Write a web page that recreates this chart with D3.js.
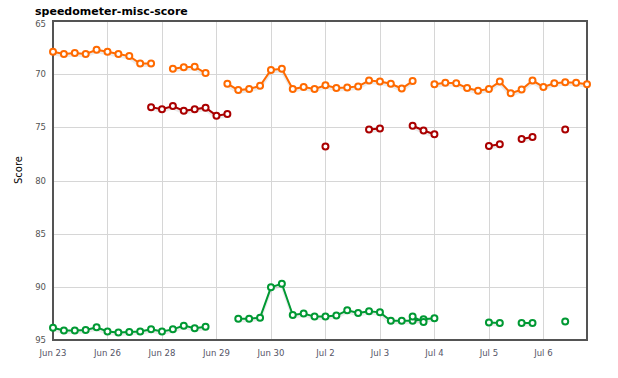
<!DOCTYPE html>
<html>
<head>
<meta charset="utf-8">
<script src="https://cdn.jsdelivr.net/npm/d3@7"></script>
<style>
  body { margin: 0; background: #fff; }
  svg { display: block; }
</style>
</head>
<body>
<svg width="618" height="378"></svg>
<script>
// sample labels (one label every 5 samples)
var tickIdx = [0, 5, 10, 15, 20, 25, 30, 35, 40, 45];
var tickLabels = ["Jun 23", "Jun 26", "Jun 28", "Jun 29", "Jun 30", "Jul 2", "Jul 3", "Jul 4", "Jul 5", "Jul 6"];
var yTicks = [65, 70, 75, 80, 85, 90, 95];

var N = null;
var orange = [67.9, 68.1, 68.0, 68.1, 67.7, 67.9, 68.1, 68.3, 69.0, 69.0,
              N, 69.5, 69.35, 69.3, 69.9, N, 70.9, 71.5, 71.4, 71.1,
              69.6, 69.5, 71.4, 71.2, 71.4, 71.05, 71.3, 71.25, 71.15, 70.6,
              70.7, 70.9, 71.35, 70.65, N, 70.95, 70.8, 70.85, 71.3, 71.55,
              71.4, 70.7, 71.8, 71.45, 70.6, 71.2, 70.85, 70.75, 70.8, 70.95];
var red = [N, N, N, N, N, N, N, N, N, 73.1,
           73.3, 73.0, 73.45, 73.3, 73.15, 73.9, 73.75, N, N, N,
           N, N, N, N, N, 76.8, N, N, N, 75.2,
           75.1, N, N, 74.85, 75.3, 75.65, N, N, N, N,
           76.75, 76.6, N, 76.1, 75.9, N, N, 75.2, N, N];
var green = [93.85, 94.1, 94.1, 94.05, 93.8, 94.2, 94.3, 94.25, 94.2, 94.0,
             94.2, 94.0, 93.65, 93.9, 93.75, N, N, 93.0, 93.0, 92.9,
             90.05, 89.7, 92.65, 92.5, 92.8, 92.8, 92.7, 92.2, 92.45, 92.3,
             92.4, 93.2, 93.2, 93.2, 93.05, 92.95, N, N, N, N,
             93.35, 93.4, N, 93.4, 93.4, N, N, 93.25, N, N];
var greenExtra = new Array(50).fill(N);
greenExtra[33] = 92.8; greenExtra[34] = 93.3;

var series = [
  { values: orange, color: "#ff6a00" },
  { values: red, color: "#aa0000" },
  { values: green, color: "#009933" },
  { values: greenExtra, color: "#009933" }
];

var svg = d3.select("svg");
var plot = { left: 53, right: 587, top: 21, bottom: 340 };

var x = d3.scaleLinear().domain([0, 49]).range([plot.left, plot.right]);
var y = d3.scaleLinear().domain([65, 95]).range([plot.top, plot.bottom]);

// grid
var grid = svg.append("g").attr("stroke", "#d6d6d6").attr("stroke-width", 1);
grid.selectAll("line.h").data(yTicks.slice(1, -1)).enter().append("line")
  .attr("x1", plot.left).attr("x2", plot.right)
  .attr("y1", d => Math.round(y(d)) + 0.5).attr("y2", d => Math.round(y(d)) + 0.5);
grid.selectAll("line.v").data(tickIdx.slice(1)).enter().append("line")
  .attr("y1", plot.top).attr("y2", plot.bottom)
  .attr("x1", d => Math.round(x(d)) + 0.5).attr("x2", d => Math.round(x(d)) + 0.5);

// border
svg.append("rect").attr("x", plot.left).attr("y", plot.top)
  .attr("width", plot.right - plot.left).attr("height", plot.bottom - plot.top)
  .attr("fill", "none").attr("stroke", "#545454").attr("stroke-width", 2);
svg.append("line").attr("x1", plot.left - 0.5).attr("x2", plot.left - 0.5)
  .attr("y1", plot.top - 1).attr("y2", plot.bottom + 1)
  .attr("stroke", "#545454").attr("stroke-width", 1);

// tick labels
svg.append("g").selectAll("text").data(yTicks).enter().append("text")
  .attr("x", plot.left - 7).attr("y", d => d === 65 ? y(d) + 5.5 : y(d) + 3)
  .attr("text-anchor", "end")
  .attr("font-family", "DejaVu Sans, Verdana, sans-serif").attr("font-size", 8.5)
  .attr("fill", "#545454")
  .text(d => d);
svg.append("g").selectAll("text").data(tickIdx).enter().append("text")
  .attr("x", d => x(d)).attr("y", 356)
  .attr("text-anchor", "middle")
  .attr("font-family", "DejaVu Sans, Verdana, sans-serif").attr("font-size", 8.5)
  .attr("fill", "#545466")
  .text((d, i) => tickLabels[i]);

// title and axis label
svg.append("text").attr("x", 35).attr("y", 14.5)
  .attr("font-family", "DejaVu Sans, Verdana, sans-serif").attr("font-size", 11)
  .attr("font-weight", "bold").attr("fill", "#000")
  .text("speedometer-misc-score");
svg.append("text").attr("transform", "translate(22,170) rotate(-90)")
  .attr("text-anchor", "middle")
  .attr("font-family", "DejaVu Sans, Verdana, sans-serif").attr("font-size", 10)
  .attr("fill", "#000")
  .text("Score");

// series
var lineMaker = d3.line()
  .defined(d => d != null)
  .x((d, i) => x(i))
  .y(d => y(d));

series.forEach(function(s) {
  var g = svg.append("g");
  // faint flot-like shadow
  g.append("path").attr("fill", "none")
    .attr("stroke", "rgba(0,0,0,0.08)").attr("stroke-width", 3)
    .attr("transform", "translate(0,2)")
    .attr("d", lineMaker(s.values));
  g.append("path").attr("fill", "none")
    .attr("stroke", s.color).attr("stroke-width", 2)
    .attr("d", lineMaker(s.values));
  var pts = s.values.map((v, i) => ({ i: i, v: v })).filter(d => d.v != null);
  g.selectAll("circle").data(pts).enter().append("circle")
    .attr("cx", d => x(d.i)).attr("cy", d => y(d.v))
    .attr("r", 3).attr("fill", "#fff")
    .attr("stroke", s.color).attr("stroke-width", 2);
});
</script>
</body>
</html>
